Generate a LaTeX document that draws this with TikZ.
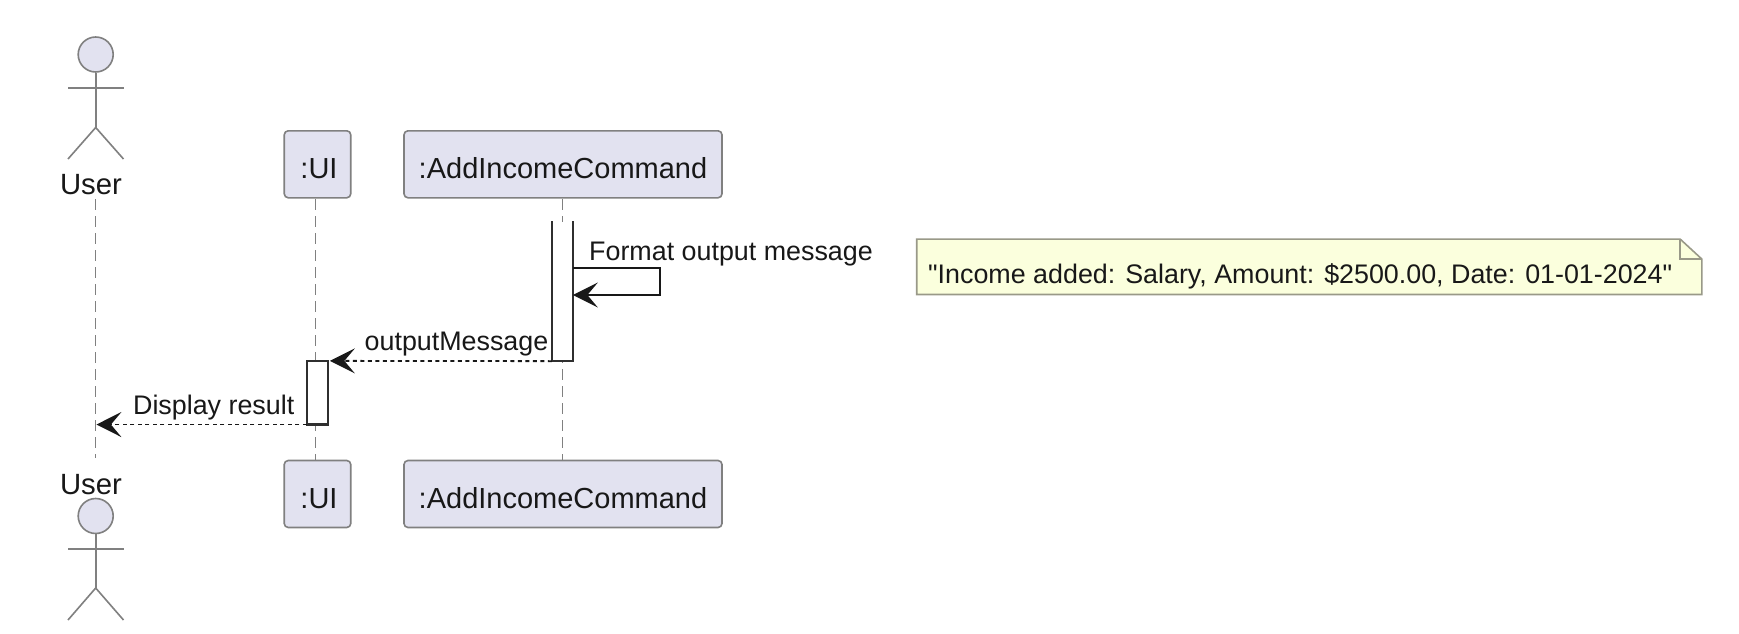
\documentclass[tikz,border=0pt]{standalone}
\usepackage{fontspec}
\newfontfamily\plainsans{Liberation Sans}
\usetikzlibrary{arrows.meta,calc}
\definecolor{partfill}{HTML}{E2E2F0}
\definecolor{partline}{HTML}{808080}
\definecolor{ink}{HTML}{181818}
\definecolor{notefill}{HTML}{FBFFDD}
\definecolor{noteline}{HTML}{999988}
\tikzset{
  label/.style={inner sep=0pt,text=ink,font=\plainsans\fontsize{26.85}{30}\selectfont},
  actorname/.style={inner sep=0pt,text=ink,font=\plainsans\fontsize{29.3}{32}\selectfont},
  partbox/.style={draw=partline,line width=1.6pt,fill=partfill,rounded corners=4pt,inner sep=0pt,text=ink,font=\plainsans\fontsize{29}{32}\selectfont,minimum height=67pt,text height=28pt,text depth=0pt},
  stick/.style={draw=partline,line width=1.6pt},
  head/.style={circle,draw=partline,line width=1.6pt,fill=partfill,minimum size=35pt,inner sep=0pt},
  lifeline/.style={draw=partline,line width=1.6pt,dash pattern=on 10.5pt off 6.5pt},
  actbar/.style={fill=white,minimum width=20.7pt,inner sep=0pt},
  actline/.style={draw=ink!90,line width=2.2pt},
  msg/.style={draw=ink,line width=1.8pt,-{Stealth[length=25pt,width=25pt,inset=10.5pt]}},
  reply/.style={msg,dash pattern=on 4pt off 3.5pt},
}
\begin{document}
\begin{tikzpicture}[x=1pt,y=-1pt]
\useasboundingbox[fill=white] (0,0) rectangle (1739,634);
% participants
\node[head] (headtop) at (95.7,54.5) {};
\coordinate (armsLtop) at (68,88);
\coordinate (armsRtop) at (123.5,88);
\coordinate (hiptop) at (95.7,127.5);
\coordinate (legLtop) at (68,159);
\coordinate (legRtop) at (123.5,159);
\node[actorname] (usertop) at (91,184.5) {User};
\node[partbox,minimum width=66.5pt] (uitop) at (317.5,164.3) {\kern3pt:UI};
\node[partbox,minimum width=318pt] (cmdtop) at (563,164.3) {:AddIncomeCommand};
\node[partbox,minimum width=66.5pt] (uibot) at (317.5,494) {\kern3pt:UI};
\node[partbox,minimum width=318pt] (cmdbot) at (563,494) {:AddIncomeCommand};
\node[actorname] (userbot) at (91,485) {User};
\node[head] (headbot) at (95.7,516) {};
\coordinate (armsLbot) at (68,549);
\coordinate (armsRbot) at (123.5,549);
\coordinate (hipbot) at (95.7,588);
\coordinate (legLbot) at (68,620);
\coordinate (legRbot) at (123.5,620);
% lifelines
\coordinate (userlinetop) at (95.4,199);
\coordinate (userlinebot) at (95.4,458);
\coordinate (uilinetop) at (315.3,199);
\coordinate (uilinebot) at (315.3,460);
\coordinate (cmdlinetop) at (562.3,199);
\coordinate (cmdlinebot) at (562.3,460);
\draw[lifeline] (userlinetop) -- (userlinebot);
\draw[lifeline] (uilinetop) -- (uilinebot);
\draw[lifeline] (cmdlinetop) -- (cmdlinebot);
% actor figures
\draw[stick] (headtop.south) -- (hiptop);
\draw[stick] (armsLtop) -- (armsRtop);
\draw[stick] (legLtop) -- (hiptop) -- (legRtop);
\draw[stick] (headbot.south) -- (hipbot);
\draw[stick] (armsLbot) -- (armsRbot);
\draw[stick] (legLbot) -- (hipbot) -- (legRbot);
% activations
\node[actbar,minimum height=139.3pt] (cmdact) at (562.3,291.3) {};
\draw[actline] (cmdact.north west) -- (cmdact.south west) -- (cmdact.south east) -- (cmdact.north east);
\node[actbar,minimum height=63.3pt] (uiact) at (317.3,392.7) {};
\draw[actline] (uiact.north west) rectangle (uiact.south east);
% messages
\coordinate (selfa) at (cmdact.east |- 0,267.7);
\coordinate (selfb) at (660,267.7);
\coordinate (selfc) at (660,295);
\coordinate (selfd) at (cmdact.east |- 0,295);
\draw[msg] (selfa) -- (selfb) -- (selfc) -- (selfd);
\node[label,anchor=west] (fmtlabel) at (589,254.4) {Format output message};
\draw[reply,shorten >=2pt] (cmdact.south west) -- (uiact.north east);
\node[label,anchor=east] (outlabel) at (548.5,344.4) {outputMessage};
\draw[reply,shorten >=1pt] (uiact.south west) -- (userlinetop |- uiact.south);
\node[label,anchor=east] (displabel) at (294.5,407.5) {Display result};
% note
\node[minimum width=784.7pt,minimum height=55pt,inner sep=0pt] (note) at (1309.3,266.8) {};
\coordinate (foldA) at ($(note.north east)+(-21.7,0)$);
\coordinate (foldB) at ($(note.north east)+(0,20)$);
\coordinate (foldC) at ($(note.north east)+(-21.7,20)$);
\draw[draw=noteline,fill=notefill,line width=1.6pt] (note.north west) -- (foldA) -- (foldB) -- (note.south east) -- (note.south west) -- cycle;
\draw[draw=noteline,line width=1.6pt] (foldA) -- (foldC) -- (foldB);
\node[label,anchor=west] (notelabel) at (928,276.5) {"Income added: Salary, Amount: \$2500.00, Date: 01-01-2024"};
\end{tikzpicture}
\end{document}
